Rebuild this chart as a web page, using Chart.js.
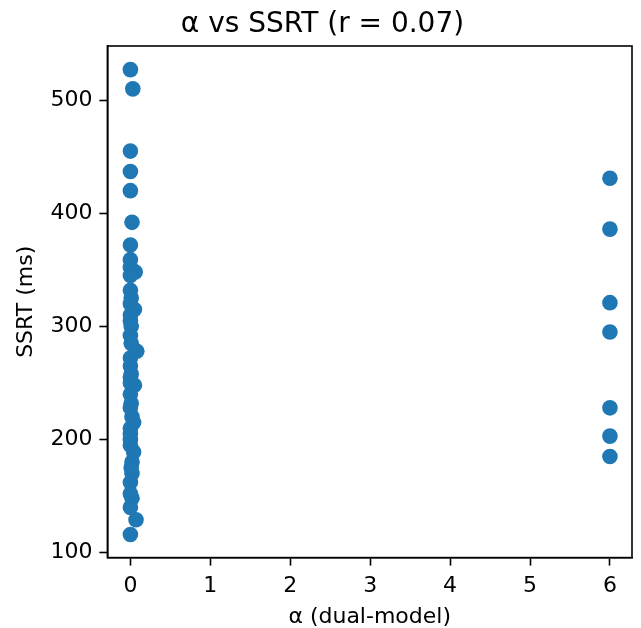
<!DOCTYPE html>
<html>
<head>
<meta charset="utf-8">
<script src="https://cdn.jsdelivr.net/npm/chart.js@4"></script>
<style>
  html, body { margin: 0; padding: 0; background: #fff; }
  #wrap { width: 641px; height: 628px; }
</style>
</head>
<body>
<div id="wrap"><canvas id="scatter" width="641" height="628"></canvas></div>
<script>
// alpha values (x) and SSRT values (y)
const alphaLow = [0.00, 0.03, 0.00, 0.00, 0.00, 0.02, 0.00, 0.00, 0.00, 0.06, 0.00, 0.00, 0.01, 0.00, 0.05,
                  0.00, 0.00, 0.01, 0.00, 0.01, 0.08, 0.00, 0.00, 0.01, 0.00, 0.00, 0.05, 0.00, 0.01, 0.00,
                  0.02, 0.04, 0.00, 0.00, 0.00, 0.00, 0.04, 0.02, 0.01, 0.02, 0.00, 0.00, 0.02, 0.00, 0.07, 0.00];
const ssrtLow  = [527, 510, 455, 437, 420, 392, 372, 359, 352, 348, 345, 332, 325, 320, 315,
                  310, 305, 300, 292, 285, 278, 272, 265, 258, 255, 250, 248, 240, 232, 228,
                  220, 215, 210, 205, 200, 195, 189, 180, 175, 170, 162, 152, 148, 140, 129, 116];
const alphaHigh = [6, 6, 6, 6, 6, 6, 6];
const ssrtHigh  = [431, 386, 321, 295, 228, 203, 185];

const xTicks = [0, 1, 2, 3, 4, 5, 6];
const yTicks = [100, 200, 300, 400, 500];

const points = alphaLow.map((a, i) => ({ x: a, y: ssrtLow[i] }))
  .concat(alphaHigh.map((a, i) => ({ x: a, y: ssrtHigh[i] })));

const font = "'DejaVu Sans', sans-serif";

// draw top + right spines
const frame = {
  id: 'frame',
  afterDraw(chart) {
    const { ctx, chartArea: a } = chart;
    ctx.save();
    ctx.strokeStyle = '#000';
    ctx.lineWidth = 1.6;
    ctx.strokeRect(a.left, a.top, a.right - a.left, a.bottom - a.top);
    ctx.restore();
  }
};

new Chart(document.getElementById('scatter').getContext('2d'), {
  type: 'scatter',
  data: {
    datasets: [{
      data: points,
      backgroundColor: '#1f77b4',
      borderWidth: 0,
      pointRadius: 7.8,
      pointHoverRadius: 7.8
    }]
  },
  options: {
    responsive: false,
    animation: false,
    layout: { padding: { left: 13, right: 9, top: 0, bottom: 0 } },
    plugins: {
      legend: { display: false },
      tooltip: { enabled: false },
      title: {
        display: true,
        text: 'α vs SSRT (r = 0.07)',
        color: '#000',
        font: { family: font, size: 28, weight: 'normal' },
        padding: { top: 8, bottom: 4.4 }
      }
    },
    scales: {
      x: {
        type: 'linear',
        min: -0.288,
        max: 6.276,
        afterBuildTicks: (s) => { s.ticks = xTicks.map(v => ({ value: v })); },
        ticks: { color: '#000', font: { family: font, size: 22 }, padding: 7 },
        grid: { drawOnChartArea: false, drawTicks: true, tickLength: 8, tickWidth: 1.6, color: '#000' },
        border: { color: '#000', width: 1.6 },
        title: {
          display: true,
          text: 'α (dual-model)',
          color: '#000',
          font: { family: font, size: 22, lineHeight: 1 },
          padding: { top: 0, bottom: 0 }
        }
      },
      y: {
        type: 'linear',
        min: 95.6,
        max: 547.9,
        afterBuildTicks: (s) => { s.ticks = yTicks.map(v => ({ value: v })); },
        ticks: { color: '#000', font: { family: font, size: 22 }, padding: 7 },
        grid: { drawOnChartArea: false, drawTicks: true, tickLength: 8, tickWidth: 1.6, color: '#000' },
        border: { color: '#000', width: 1.6 },
        title: {
          display: true,
          text: 'SSRT (ms)',
          color: '#000',
          font: { family: font, size: 22 },
          padding: { top: 0, bottom: 4 }
        }
      }
    }
  },
  plugins: [frame]
});
</script>
</body>
</html>
